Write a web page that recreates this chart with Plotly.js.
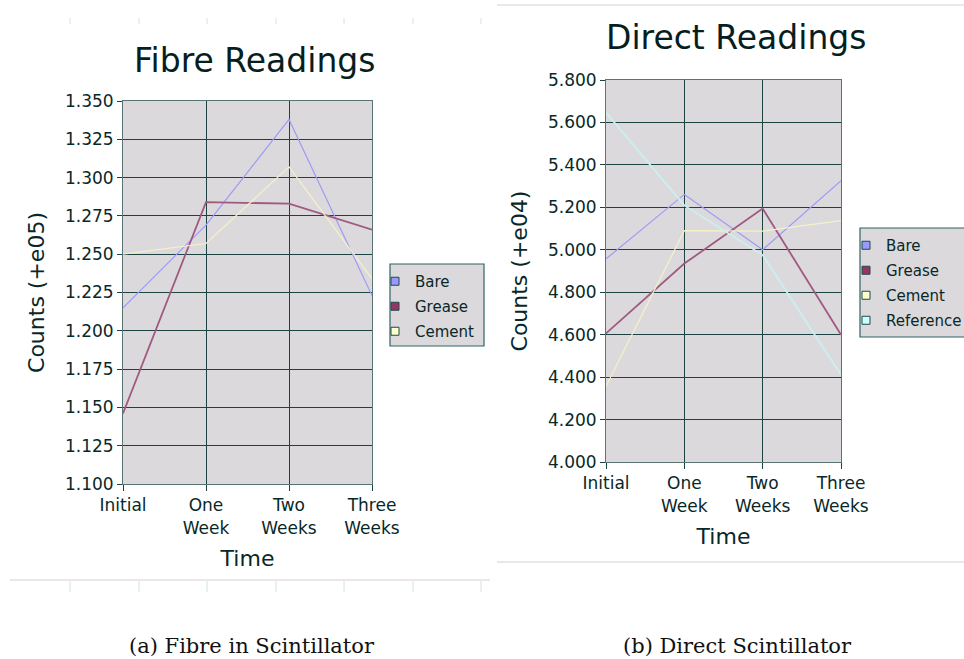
<!DOCTYPE html>
<html>
<head>
<meta charset="utf-8">
<script src="https://cdn.plot.ly/plotly-3.0.1.min.js"></script>
<style>
  html, body { margin: 0; padding: 0; background: #ffffff; }
  #chart { width: 964px; height: 659px; }
</style>
</head>
<body>
<div id="chart"></div>
<script>
// ---- data ----
const categories = ['Initial', 'One Week', 'Two Weeks', 'Three Weeks'];
const tickLabels = ['Initial', 'One<br>Week', 'Two<br>Weeks', 'Three<br>Weeks'];

const fibreBare   = [1.215, 1.269, 1.338, 1.223];
const fibreGrease = [1.146, 1.284, 1.283, 1.266];
const fibreCement = [1.250, 1.257, 1.307, 1.234];

const directBare      = [4.957, 5.261, 5.000, 5.325];
const directGrease    = [4.606, 4.935, 5.194, 4.600];
const directCement    = [4.357, 5.090, 5.088, 5.137];
const directReference = [5.646, 5.209, 4.975, 4.410];

const fibreTicks  = [1.100, 1.125, 1.150, 1.175, 1.200, 1.225, 1.250, 1.275, 1.300, 1.325, 1.350];
const directTicks = [4.0, 4.2, 4.4, 4.6, 4.8, 5.0, 5.2, 5.4, 5.6, 5.8];

// ---- styling ----
const W = 964, H = 659;
const px = x => x / W;
const py = y => 1 - y / H;

const textColor = '#082828';
const gridColor = '#1c4242';
const axisLineColor = '#5a7474';
const bgGray = '#dcd9dd';
const font = 'DejaVu Sans, Verdana, sans-serif';

const seriesStyle = {
  Bare:      {line: '#9c9cf6', width: 1.2, marker: '#9999ff'},
  Grease:    {line: '#a05a80', width: 1.8, marker: '#993366'},
  Cement:    {line: '#f4f2c6', width: 1.2, marker: '#ffffcc'},
  Reference: {line: '#c9f0f0', width: 1.8, marker: '#ccffff'}
};

function lineTrace(name, ys, xa, ya) {
  const s = seriesStyle[name];
  return {
    type: 'scatter', mode: 'lines', name: name,
    x: categories, y: ys, xaxis: xa, yaxis: ya,
    line: {color: s.line, width: s.width},
    showlegend: false, legendgroup: name + xa, hoverinfo: 'x+y+name'
  };
}
function legendTrace(name, xa, ya, legend) {
  const s = seriesStyle[name];
  return {
    type: 'scatter', mode: 'markers', name: name,
    x: [null], y: [null], xaxis: xa, yaxis: ya,
    marker: {symbol: 'square', size: 8, color: s.marker, line: {color: '#1f4a4a', width: 1}},
    showlegend: true, legend: legend, legendgroup: name + xa
  };
}

const data = [
  lineTrace('Bare', fibreBare, 'x', 'y'),
  lineTrace('Grease', fibreGrease, 'x', 'y'),
  lineTrace('Cement', fibreCement, 'x', 'y'),
  legendTrace('Bare', 'x', 'y', 'legend'),
  legendTrace('Grease', 'x', 'y', 'legend'),
  legendTrace('Cement', 'x', 'y', 'legend'),

  lineTrace('Bare', directBare, 'x2', 'y2'),
  lineTrace('Grease', directGrease, 'x2', 'y2'),
  lineTrace('Cement', directCement, 'x2', 'y2'),
  lineTrace('Reference', directReference, 'x2', 'y2'),
  legendTrace('Bare', 'x2', 'y2', 'legend2'),
  legendTrace('Grease', 'x2', 'y2', 'legend2'),
  legendTrace('Cement', 'x2', 'y2', 'legend2'),
  legendTrace('Reference', 'x2', 'y2', 'legend2')
];

function xAxis(domain, anchor) {
  return {
    domain: domain, anchor: anchor,
    type: 'category', categoryorder: 'array', categoryarray: categories,
    range: [0, categories.length - 1],
    tickmode: 'array', tickvals: categories, ticktext: tickLabels,
    showgrid: true, gridcolor: gridColor, gridwidth: 1,
    showline: true, linecolor: axisLineColor, linewidth: 1, mirror: true,
    ticks: 'outside', ticklen: 6, tickcolor: gridColor,
    tickfont: {family: font, size: 17, color: textColor},
    title: {text: 'Time', font: {family: font, size: 22, color: textColor}, standoff: 14},
    zeroline: false, fixedrange: true
  };
}
function yAxis(domain, anchor, range, ticks, title) {
  return {
    domain: domain, anchor: anchor,
    range: range, tickmode: 'array', tickvals: ticks,
    tickformat: '.3f',
    showgrid: true, gridcolor: gridColor, gridwidth: 1,
    showline: true, linecolor: axisLineColor, linewidth: 1, mirror: true,
    ticks: 'outside', ticklen: 5, tickcolor: gridColor,
    tickfont: {family: font, size: 17, color: textColor},
    title: {text: title, font: {family: font, size: 22, color: textColor}, standoff: 14},
    zeroline: false, fixedrange: true
  };
}

const legendBase = {
  bgcolor: 'rgba(0,0,0,0)', borderwidth: 0,
  font: {family: font, size: 15, color: textColor},
  xanchor: 'left', yanchor: 'top', itemwidth: 30, tracegroupgap: 2.5
};

const decoColor = '#e6dede';
const tickDeco = '#d2e4e4';
const shapes = [
  // legend frames
  {type: 'rect', xref: 'paper', yref: 'paper', x0: px(390), x1: px(484), y0: py(346), y1: py(264),
   fillcolor: bgGray, line: {color: '#2d6464', width: 1.2}, layer: 'above'},
  {type: 'rect', xref: 'paper', yref: 'paper', x0: px(860), x1: px(970), y0: py(337), y1: py(228),
   fillcolor: bgGray, line: {color: '#2d6464', width: 1.2}, layer: 'above'},
  // page frame decorations
  {type: 'line', xref: 'paper', yref: 'paper', x0: px(10), x1: px(490), y0: py(580), y1: py(580), line: {color: decoColor, width: 1.5}},
  {type: 'line', xref: 'paper', yref: 'paper', x0: px(497), x1: px(964), y0: py(5), y1: py(5), line: {color: '#e2e2e2', width: 1.5}},
  {type: 'line', xref: 'paper', yref: 'paper', x0: px(497), x1: px(964), y0: py(562), y1: py(562), line: {color: decoColor, width: 1.5}}
];
[70, 139, 207, 276, 344, 413, 481].forEach(x => {
  shapes.push({type: 'line', xref: 'paper', yref: 'paper', x0: px(x), x1: px(x), y0: py(581), y1: py(592), line: {color: tickDeco, width: 1}});
  shapes.push({type: 'line', xref: 'paper', yref: 'paper', x0: px(x), x1: px(x), y0: py(18), y1: py(24), line: {color: tickDeco, width: 1}});
});

const layout = {
  width: W, height: H,
  margin: {l: 0, r: 0, t: 0, b: 0, autoexpand: false},
  paper_bgcolor: '#ffffff', plot_bgcolor: bgGray,
  showlegend: true,
  font: {family: font, color: textColor},
  xaxis: xAxis([px(123), px(372)], 'y'),
  yaxis: yAxis([py(484), py(101)], 'x', [1.100, 1.350], fibreTicks, 'Counts (+e05)'),
  xaxis2: xAxis([px(606), px(841)], 'y2'),
  yaxis2: yAxis([py(462), py(80)], 'x2', [4.0, 5.8], directTicks, 'Counts (+e04)'),
  legend: Object.assign({}, legendBase, {x: px(375), y: py(265)}),
  legend2: Object.assign({}, legendBase, {x: px(846), y: py(229)}),
  shapes: shapes,
  annotations: [
    {text: 'Fibre Readings', xref: 'paper', yref: 'paper', x: px(254), y: py(60), xanchor: 'center', yanchor: 'middle', showarrow: false,
     font: {family: font, size: 33, color: '#061e1e'}},
    {text: 'Direct Readings', xref: 'paper', yref: 'paper', x: px(736), y: py(37), xanchor: 'center', yanchor: 'middle', showarrow: false,
     font: {family: font, size: 33, color: '#061e1e'}},
    {text: '(a) Fibre in Scintillator', xref: 'paper', yref: 'paper', x: px(252), y: py(646), xanchor: 'center', yanchor: 'middle', showarrow: false,
     font: {family: 'DejaVu Serif, Liberation Serif, serif', size: 21, color: '#111111'}},
    {text: '(b) Direct Scintillator', xref: 'paper', yref: 'paper', x: px(737), y: py(646), xanchor: 'center', yanchor: 'middle', showarrow: false,
     font: {family: 'DejaVu Serif, Liberation Serif, serif', size: 21, color: '#111111'}}
  ]
};

Plotly.newPlot('chart', data, layout, {displayModeBar: false, staticPlot: true});
</script>
</body>
</html>
